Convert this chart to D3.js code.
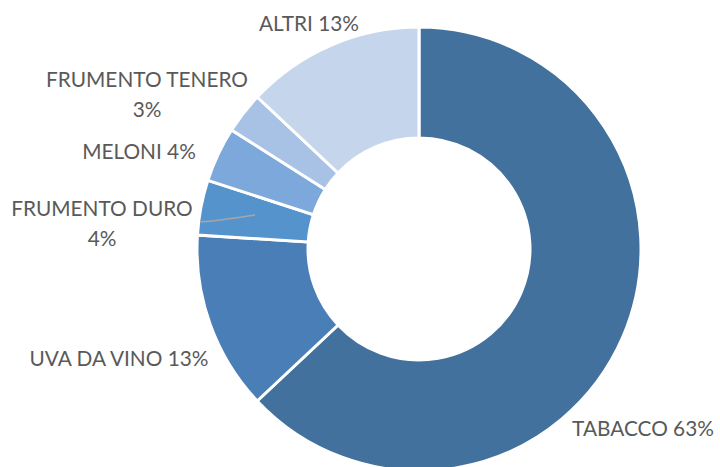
<!DOCTYPE html>
<html><head><meta charset="utf-8">
<script src="https://cdn.jsdelivr.net/npm/d3@7"></script>
<style>html,body{margin:0;padding:0;background:#fff;}</style>
</head><body>
<svg id="chart" width="720" height="467"></svg>
<script>
const categories = ["TABACCO", "UVA DA VINO", "FRUMENTO DURO", "MELONI", "FRUMENTO TENERO", "ALTRI"];
const values = [63, 13, 4, 4, 3, 13];
const colors = ["#41719C", "#4A7EB6", "#5593CD", "#7CA8DB", "#A8C2E6", "#C5D5EB"];
// label layout: [lines], x center, baseline y of first line
const labelLayout = [
  {lines: ["TABACCO 63%"], x: 643, y: 436},
  {lines: ["UVA DA VINO 13%"], x: 119, y: 366},
  {lines: ["FRUMENTO DURO", "4%"], x: 102, y: 216},
  {lines: ["MELONI 4%"], x: 139, y: 159},
  {lines: ["FRUMENTO TENERO", "3%"], x: 147, y: 87},
  {lines: ["ALTRI 13%"], x: 309, y: 31}
];

const svg = d3.select("#chart");
const cx = 419, cy = 249, outerR = 222, innerR = 111;
const g = svg.append("g").attr("transform", `translate(${cx},${cy})`);
const data = categories.map((c, i) => ({cat: c, value: values[i], color: colors[i]}));
const pie = d3.pie().value(d => d.value).sort(null).startAngle(0).endAngle(2 * Math.PI);
const arc = d3.arc().innerRadius(innerR).outerRadius(outerR);
g.selectAll("path.slice").data(pie(data)).join("path")
  .attr("class", "slice")
  .attr("d", arc)
  .attr("fill", d => d.data.color)
  .attr("stroke", "#fff")
  .attr("stroke-width", 3)
  .attr("stroke-linejoin", "miter");

// leader line for FRUMENTO DURO
svg.append("path")
  .attr("d", d3.line().curve(d3.curveBasis)([[200, 222], [214, 221], [255, 215]]))
  .attr("fill", "none").attr("stroke", "#A6A6A6").attr("stroke-width", 1.5);

const lab = svg.append("g").attr("font-family", "Lato, 'Open Sans', sans-serif")
  .attr("font-size", 20.8).attr("fill", "#595959").attr("text-anchor", "middle");
labelLayout.forEach(l => {
  const t = lab.append("text").attr("x", l.x).attr("y", l.y);
  l.lines.forEach((s, i) => {
    t.append("tspan").attr("x", l.x).attr("dy", i === 0 ? 0 : 30).text(s);
  });
});
</script>
</body></html>
